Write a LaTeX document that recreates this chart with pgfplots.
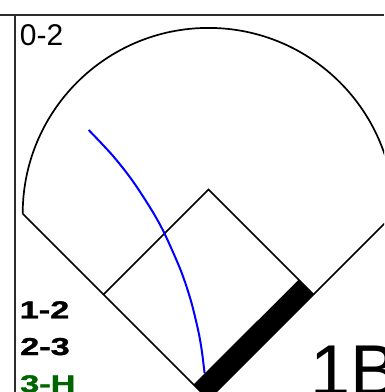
\documentclass[border=0pt]{standalone}
\usepackage{pgfplots}
\pgfplotsset{compat=1.18}
\usepackage{fontspec}
\setmainfont{Liberation Sans}
\newfontfamily\heavyfont[FakeBold=1.2]{Liberation Sans Bold}
\usepackage{graphicx}
\definecolor{dgreen}{RGB}{0,100,0}
\definecolor{framec}{RGB}{45,45,45}
\begin{document}
\begin{tikzpicture}
\useasboundingbox (0,0) rectangle (384pt,392pt);
\clip (0,0) rectangle (384pt,392pt);
\begin{axis}[at={(0,0)}, anchor=south west, scale only axis,
  width=384pt, height=392pt, xmin=0, xmax=384, ymin=0, ymax=392,
  y dir=reverse, hide axis, clip=false]
% panel frame
\addplot[framec, line width=2pt] coordinates {(0,14.7) (384,14.7)};
\addplot[framec, line width=2pt] coordinates {(14.7,14.7) (14.7,392)};
% outfield fence
\draw[black, line width=1.7pt] (axis cs:22.7,213.7) arc[start angle=180, end angle=0, radius=185.8pt];
% foul lines
\addplot[black, line width=1.7pt] coordinates {(22.7,213.7) (208.5,399.5) (394.3,213.7)};
% infield diamond
\addplot[black, line width=1.7pt] coordinates {(103.5,294.5) (208.5,189.5) (313.5,294.5)};
% batted ball path
\addplot[blue, line width=2pt, smooth] coordinates {
 (88.7,130) (112.2,155) (132,180) (151.6,210) (164.5,233.5) (180.6,270)
 (190.7,300) (198.1,330) (201.7,350) (204.6,373.3)};
% first base line band
\addplot[fill=black, draw=none] coordinates {(313.5,294.5) (298.7,279.7) (193.5,384.5) (208.5,399.5)} -- cycle;
% labels
\node[anchor=base west, inner sep=0pt] at (axis cs:19.7,45) {\fontsize{30}{36}\selectfont 0-2};
\node[anchor=base west, inner sep=0pt] at (axis cs:19.5,318.3) {\scalebox{1.4}[1]{\fontsize{24.5}{28}\heavyfont 1-2}};
\node[anchor=base west, inner sep=0pt] at (axis cs:20,355) {\scalebox{1.4}[1]{\fontsize{24.5}{28}\heavyfont 2-3}};
\node[anchor=base west, inner sep=0pt, text=dgreen] at (axis cs:20,392.3) {\scalebox{1.4}[1]{\fontsize{24.5}{28}\heavyfont 3-H}};
\node[anchor=base west, inner sep=0pt] at (axis cs:310.5,395) {\fontsize{72}{80}\selectfont 1B};
\end{axis}
\end{tikzpicture}
\end{document}
